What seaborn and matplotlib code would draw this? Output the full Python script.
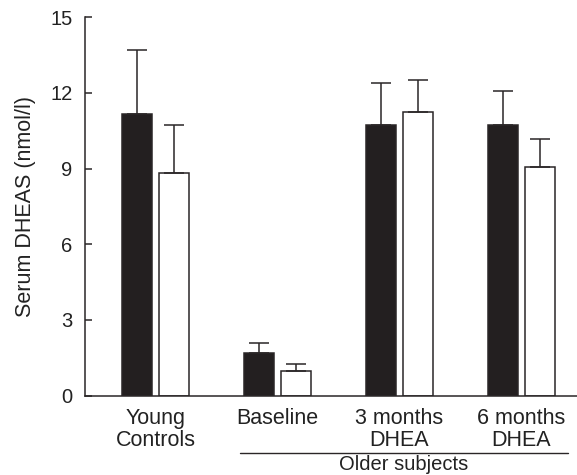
import numpy as np
import pandas as pd
import matplotlib
matplotlib.use("Agg")
import matplotlib.pyplot as plt
import matplotlib.transforms as mtransforms
import seaborn as sns

# values
groups = ["Young\nControls", "Baseline", "3 months\nDHEA", "6 months\nDHEA"]
series = ["filled", "open"]
filled_vals = [11.17, 1.69, 10.73, 10.73]
open_vals = [8.81, 0.97, 11.24, 9.05]
filled_err_top = [13.68, 2.10, 12.37, 12.07]
open_err_top = [10.72, 1.27, 12.50, 10.18]
yticks = [0, 3, 6, 9, 12, 15]

sns.set_style("ticks")
plt.rcParams["font.family"] = ["Liberation Sans", "DejaVu Sans"]

df = pd.DataFrame({
    "group": groups * 2,
    "series": [series[0]] * 4 + [series[1]] * 4,
    "value": filled_vals + open_vals,
})

dark = "#2a2627"
txt = "#222"
fig = plt.figure(figsize=(5.77, 4.75), dpi=100)
ax = fig.add_axes([0.1473, 0.167, 0.8527, 0.797])

sns.barplot(data=df, x="group", y="value", hue="series", order=groups,
            hue_order=series, palette=["#231f20", "white"], width=0.607,
            gap=0.19, errorbar=None, legend=False, edgecolor=dark,
            linewidth=1.1, saturation=1, ax=ax)

# upward-only error bars from the bar geometry
for cont, tops in zip(ax.containers, [filled_err_top, open_err_top]):
    xs = [p.get_x() + p.get_width() / 2 for p in cont.patches]
    hs = [p.get_height() for p in cont.patches]
    up = np.array(tops) - np.array(hs)
    ax.errorbar(xs, hs, yerr=[np.zeros(len(hs)), up], fmt="none",
                ecolor=dark, elinewidth=1.1, capsize=7, capthick=1.1,
                zorder=1)

ax.set_ylim(0, 15)
ax.set_xlim(-0.578, 3.455)
ax.set_yticks(yticks)
ax.set_xlabel("")
ax.set_ylabel("Serum DHEAS (nmol/l)", fontsize=15.5, color=txt, labelpad=10)
ax.tick_params(axis="y", direction="in", length=5, width=1.1, color=dark,
               labelsize=14.5, labelcolor=txt, pad=9)
ax.tick_params(axis="x", length=0, labelsize=15.5, labelcolor=txt, pad=9)
for lab in ax.get_xticklabels():
    lab.set_linespacing(1.05)
sns.despine(ax=ax)
for s in ["left", "bottom"]:
    ax.spines[s].set_color(dark)
    ax.spines[s].set_linewidth(1.1)

# "Older subjects" bracket under the three treatment groups
trans = mtransforms.blended_transform_factory(ax.transData, ax.transAxes)
ax.plot([0.693, 3.381], [-0.151, -0.151], color=dark, lw=1.0,
        transform=trans, clip_on=False)
ax.text((0.693 + 3.381) / 2, -0.1566, "Older subjects", transform=trans,
        ha="center", va="top", fontsize=14.5, color=txt)

fig.savefig("out.png", dpi=100)
